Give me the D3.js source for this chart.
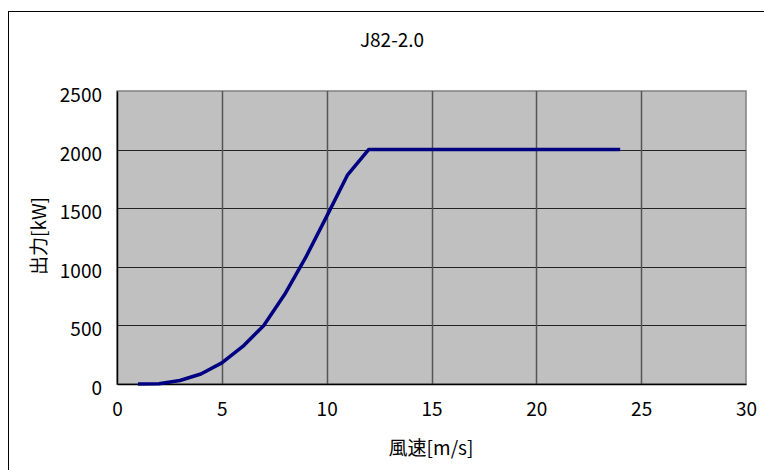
<!DOCTYPE html>
<html>
<head>
<meta charset="utf-8">
<script src="https://cdn.jsdelivr.net/npm/d3@7"></script>
<style>
  body { margin: 0; background: #fff; }
  text { font-family: "Noto Sans CJK JP", "Noto Sans", sans-serif; fill: #000; }
</style>
</head>
<body>
<div id="chart"></div>
<script>
// wind speed [m/s] and power output [kW]
const windSpeed = [1, 2, 3, 4, 5, 6, 7, 8, 9, 10, 11, 12, 13, 14, 15, 16, 17, 18, 19, 20, 21, 22, 23, 24];
const powerKW = [0, 3, 30, 85, 180, 320, 500, 765, 1080, 1430, 1785, 2000, 2000, 2000, 2000, 2000, 2000, 2000, 2000, 2000, 2000, 2000, 2000, 2000];
const xTicks = [0, 5, 10, 15, 20, 25, 30];
const yTicks = [0, 500, 1000, 1500, 2000, 2500];
const chartTitle = "J82-2.0";
const xTitle = "風速[m/s]";
const yTitle = "出力[kW]";

const width = 764, height = 470;
const svg = d3.select("#chart").append("svg")
    .attr("width", width)
    .attr("height", height);

// outer chart frame (runs off the right and bottom edge)
svg.append("rect")
    .attr("x", 8.5).attr("y", 11.5)
    .attr("width", 800).attr("height", 500)
    .attr("fill", "#fff")
    .attr("stroke", "#000")
    .attr("stroke-width", 1);

const plot = { left: 117, right: 746, top: 91, bottom: 384 };

const x = d3.scaleLinear().domain([0, 30]).range([plot.left, plot.right]);
const y = d3.scaleLinear().domain([0, 2500]).range([plot.bottom, plot.top]);

// plot background
svg.append("rect")
    .attr("x", plot.left).attr("y", plot.top)
    .attr("width", plot.right - plot.left)
    .attr("height", plot.bottom - plot.top)
    .attr("fill", "#c0c0c0")
    .attr("stroke", "#808080")
    .attr("stroke-width", 1.5);

// gridlines
svg.append("g").selectAll("line")
    .data(yTicks.filter(d => d > 0 && d < 2500))
    .join("line")
    .attr("x1", plot.left).attr("x2", plot.right)
    .attr("y1", d => Math.round(y(d)) + 0.5).attr("y2", d => Math.round(y(d)) + 0.5)
    .attr("stroke", "#222")
    .attr("stroke-width", 1);

svg.append("g").selectAll("line")
    .data(xTicks.filter(d => d > 0 && d < 30))
    .join("line")
    .attr("x1", d => Math.round(x(d)) + 0.5).attr("x2", d => Math.round(x(d)) + 0.5)
    .attr("y1", plot.top).attr("y2", plot.bottom)
    .attr("stroke", "#555")
    .attr("stroke-width", 1.5);

// axes
const yAxis = svg.append("g")
    .attr("transform", `translate(${plot.left},0)`)
    .call(d3.axisLeft(y).tickValues(yTicks).tickFormat(d3.format("d")).tickSize(0).tickPadding(15));
yAxis.select(".domain").attr("stroke", "#000").attr("stroke-width", 1.5);
yAxis.selectAll("text")
    .attr("dy", "0.55em")
    .style("font-size", "19px");

const xAxis = svg.append("g")
    .attr("transform", `translate(0,${plot.bottom})`)
    .call(d3.axisBottom(x).tickValues(xTicks).tickSize(0).tickPadding(19));
xAxis.select(".domain").attr("stroke", "#000").attr("stroke-width", 1.5);
xAxis.selectAll("text")
    .style("font-size", "19px");

// power curve
const line = d3.line()
    .x((d, i) => x(windSpeed[i]))
    .y(d => y(d));

svg.append("path")
    .datum(powerKW)
    .attr("d", line)
    .attr("fill", "none")
    .attr("stroke", "#000080")
    .attr("stroke-width", 3.5)
    .attr("stroke-linejoin", "round");

// titles
svg.append("text")
    .attr("x", 392).attr("y", 47)
    .attr("text-anchor", "middle")
    .style("font-size", "19px")
    .text(chartTitle);

svg.append("text")
    .attr("x", 431).attr("y", 455)
    .attr("text-anchor", "middle")
    .style("font-size", "19px")
    .text(xTitle);

svg.append("text")
    .attr("transform", "translate(46,236) rotate(-90)")
    .attr("text-anchor", "middle")
    .style("font-size", "19px")
    .text(yTitle);
</script>
</body>
</html>
